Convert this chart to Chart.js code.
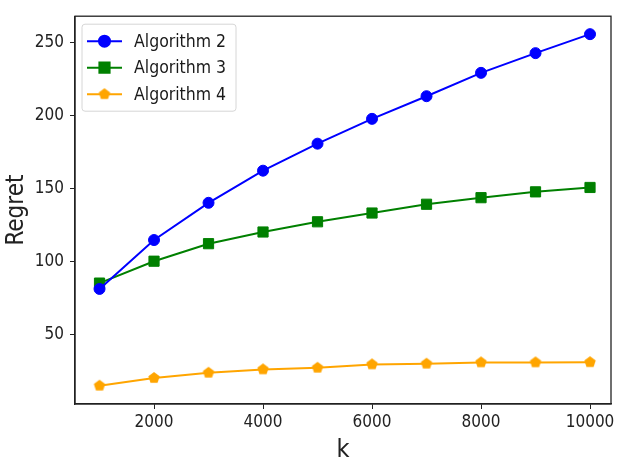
<!DOCTYPE html>
<html>
<head>
<meta charset="utf-8">
<script src="https://cdn.jsdelivr.net/npm/chart.js@4/dist/chart.umd.min.js"></script>
<style>
  body { margin: 0; background: #fff; }
  #wrap { width: 628px; height: 471px; }
</style>
</head>
<body>
<div id="wrap"><canvas id="regretChart"></canvas></div>
<script>
// data
const kValues = [1000, 2000, 3000, 4000, 5000, 6000, 7000, 8000, 9000, 10000];
const algo2 = [81, 114.5, 140, 162, 180.5, 197.5, 213, 229, 242.5, 255.5];
const algo3 = [85, 100, 112, 120, 127, 133, 139, 143.5, 147.5, 150.5];
const algo4 = [14.7, 20, 23.6, 25.9, 27, 29.3, 29.8, 30.7, 30.7, 30.8];
const xTicks = [2000, 4000, 6000, 8000, 10000];
const yTicks = [50, 100, 150, 200, 250];

const FONT = "'DejaVu Sans Condensed', 'DejaVu Sans', sans-serif";

// pentagon marker for the orange series (matplotlib 'p')
function pentagon(color, r) {
  const c = document.createElement('canvas');
  c.width = c.height = Math.ceil(r * 2 + 2);
  const g = c.getContext('2d');
  const cx = c.width / 2, cy = c.height / 2;
  g.beginPath();
  for (let i = 0; i < 5; i++) {
    const a = -Math.PI / 2 + i * 2 * Math.PI / 5;
    const px = cx + r * Math.cos(a), py = cy + r * Math.sin(a);
    if (i === 0) g.moveTo(px, py); else g.lineTo(px, py);
  }
  g.closePath();
  g.fillStyle = color;
  g.fill();
  return c;
}
const penta = pentagon('#ffa500', 6);

function series(label, values, color, style, radius) {
  return {
    label: label,
    data: kValues.map((k, i) => ({ x: k, y: values[i] })),
    borderColor: color,
    backgroundColor: color,
    borderWidth: 2,
    pointStyle: style,
    pointRadius: radius,
    pointBorderWidth: 1,
    tension: 0
  };
}

// draws the top/right frame and a matplotlib style legend box
const framePlugin = {
  id: 'frame',
  afterDraw(chart) {
    const { ctx, chartArea: a } = chart;
    ctx.save();
    ctx.strokeStyle = '#222';
    ctx.lineWidth = 1.3;
    ctx.strokeRect(a.left, a.top, a.right - a.left, a.bottom - a.top);

    // legend
    const bx = a.left + 7, by = a.top + 8, bw = 154, bh = 87;
    ctx.fillStyle = 'rgba(255,255,255,0.85)';
    ctx.strokeStyle = '#d6d6d6';
    ctx.lineWidth = 1;
    ctx.beginPath();
    ctx.roundRect(bx, by, bw, bh, 3);
    ctx.fill();
    ctx.stroke();

    chart.data.datasets.forEach((ds, i) => {
      const y = by + 17 + i * 26.5;
      ctx.strokeStyle = ds.borderColor;
      ctx.lineWidth = 2;
      ctx.beginPath();
      ctx.moveTo(bx + 5, y);
      ctx.lineTo(bx + 40, y);
      ctx.stroke();
      ctx.fillStyle = ds.backgroundColor;
      Chart.helpers.drawPoint(ctx, {
        pointStyle: ds.pointStyle, radius: ds.pointRadius, rotation: 0, borderWidth: 1
      }, bx + 22.5, y);
      ctx.fillStyle = '#1a1a1a';
      ctx.font = '17.5px ' + FONT;
      ctx.textBaseline = 'middle';
      ctx.textAlign = 'left';
      ctx.fillText(ds.label, bx + 52, y + 1);
    });
    ctx.restore();
  }
};

new Chart(document.getElementById('regretChart'), {
  type: 'line',
  data: {
    datasets: [
      series('Algorithm 2', algo2, '#0000ff', 'circle', 5.5),
      series('Algorithm 3', algo3, '#008000', 'rect', 7.2),
      series('Algorithm 4', algo4, '#ffa500', penta, 5.5)
    ]
  },
  options: {
    responsive: true,
    maintainAspectRatio: false,
    animation: false,
    layout: { padding: { top: 15, right: 17, left: 0, bottom: 0 } },
    plugins: {
      legend: { display: false },
      tooltip: { enabled: false }
    },
    scales: {
      x: {
        type: 'linear',
        min: 550,
        max: 10385,
        afterBuildTicks: (s) => { s.ticks = xTicks.map(v => ({ value: v })); },
        afterFit: (s) => { s.height = 67; },
        grid: { drawOnChartArea: false, drawTicks: true, tickLength: 5, color: '#222' },
        border: { color: '#222', width: 1.3 },
        ticks: { color: '#222', padding: 3, font: { family: FONT, size: 17 }, maxRotation: 0,
                 callback: (v) => String(v) },
        title: { display: true, text: 'k', color: '#222', font: { family: FONT, size: 25 }, padding: { top: 0, bottom: 6 } }
      },
      y: {
        type: 'linear',
        min: 2.2,
        max: 267.8,
        afterBuildTicks: (s) => { s.ticks = yTicks.map(v => ({ value: v })); },
        afterFit: (s) => { s.width = 75; },
        grid: { drawOnChartArea: false, drawTicks: true, tickLength: 5, color: '#222' },
        border: { color: '#222', width: 1.3 },
        ticks: { color: '#222', padding: 6, font: { family: FONT, size: 17 }, callback: (v) => String(v) },
        title: { display: true, text: 'Regret', color: '#222', font: { family: FONT, size: 24 }, padding: { top: 2, bottom: 0 } }
      }
    }
  },
  plugins: [framePlugin]
});
</script>
</body>
</html>
